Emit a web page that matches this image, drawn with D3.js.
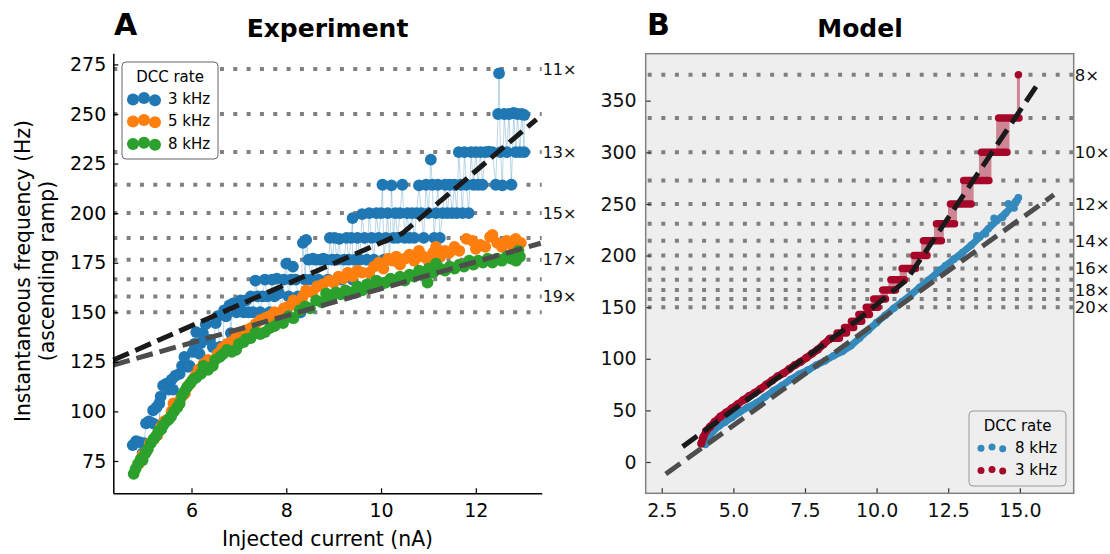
<!DOCTYPE html>
<html><head><meta charset="utf-8">
<script src="https://cdn.jsdelivr.net/npm/d3@7"></script>
<style>
body{margin:0;background:#fff;}
svg{display:block;font-family:"DejaVu Sans",sans-serif;}
</style></head><body>
<svg id="chart" width="1110" height="554"></svg>
<script>
// ---------------- DATA ----------------
// Panel A (Experiment): [injected current nA, instantaneous frequency Hz]
const expRate3 = [
[4.76,83],[4.83,85],[4.9,84.5],[4.97,79],[5.0,84],[5.04,94],[5.1,95],[5.19,94],[5.19,100.5],[5.26,102],
[5.32,104],[5.32,93],[5.35,107.5],[5.4,113],[5.47,114],[5.52,111],[5.58,116],[5.61,111],[5.66,118],[5.75,119],
[5.8,123],[5.85,127.5],[5.92,122.5],[5.96,123],[6.03,130],[6.06,134],[6.1,140],[6.17,129],[6.2,134.5],[6.24,139.5],
[6.3,144],[6.39,136],[6.45,132.5],[6.51,144.5],[6.55,148],[6.6,132.5],[6.66,131.5],[6.69,151],[6.73,148],[6.8,153.5],
[6.83,139.5],[6.88,154.5],[6.95,150],[7.01,153],[7.04,156],[7.1,150],[7.15,156],[7.2,150],[7.25,158],[7.3,150],
[7.35,166],[7.4,158],[7.45,150],[7.5,158],[7.55,166.5],[7.6,158],[7.65,150],[7.7,166.5],[7.75,158],[7.8,167],
[7.85,159.5],[7.9,150],[7.95,166.5],[8.0,174.5],[8.05,158],[8.1,166.5],[8.14,173],[8.2,166.5],[8.25,158],[8.3,150],
[8.35,185],[8.4,166.5],[8.42,186.5],[8.47,176.5],[8.52,166.5],[8.56,177],[8.62,176.5],[8.68,166.5],[8.72,176.5],[8.78,177],
[8.84,176.5],[8.88,166.5],[8.92,187.5],[8.97,176.5],[9.02,187.5],[9.07,176.5],[9.12,187],[9.17,166.5],[9.22,176.5],[9.27,187.5],
[9.32,176.5],[9.37,187.5],[9.4,197.5],[9.4,166.5],[9.45,176.5],[9.5,187.5],[9.55,176.5],[9.6,199.5],[9.65,187.5],[9.7,176.5],
[9.75,200],[9.8,187.5],[9.85,176.5],[9.9,200],[9.95,187.5],[10.0,200],[10.03,214.3],[10.06,176.5],[10.1,187.5],[10.14,200],
[10.18,176.5],[10.22,214],[10.26,187.5],[10.3,200],[10.35,187.5],[10.4,200],[10.45,214.3],[10.5,187.5],[10.55,200],[10.6,187.5],
[10.65,200],[10.7,187.5],[10.75,200],[10.8,214],[10.85,200],[10.9,187.5],[10.95,214.3],[11.0,200],[11.05,227],[11.08,214.3],
[11.12,187.5],[11.16,200],[11.2,214.3],[11.24,187.5],[11.3,200],[11.35,214.3],[11.4,200],[11.45,214.3],[11.5,200],[11.55,214.3],
[11.6,200],[11.64,230.8],[11.68,214.3],[11.72,200],[11.76,230.8],[11.8,214.3],[11.85,200],[11.9,230.8],[11.95,214.3],[12.0,230.8],
[12.05,214.3],[12.1,230.8],[12.14,214.3],[12.2,230.8],[12.27,231],[12.35,230.8],[12.42,214.3],[12.47,250],[12.49,270.5],[12.52,230.8],
[12.56,214],[12.6,250],[12.65,230.8],[12.7,250],[12.75,214.3],[12.8,250.5],[12.84,230.8],[12.88,250],[12.93,230.8],[12.97,250],
[13.02,230.8],[13.02,249.5]
];
const expRate5 = [
[4.9,74],[4.97,78],[5.05,80],[5.12,84],[5.2,86],[5.28,88],[5.35,92],[5.42,95],[5.5,96],[5.58,100],
[5.62,104],[5.7,103],[5.78,107],[5.86,109],[5.93,113],[6.0,115],[6.08,118],[6.15,121],[6.25,124],[6.35,126],
[6.45,125],[6.55,129],[6.65,132],[6.75,134],[6.85,135],[6.95,138],[7.05,139],[7.15,141],[7.25,142],[7.35,144],
[7.45,146],[7.55,147],[7.65,148],[7.75,150],[7.85,149],[7.95,152],[8.05,153],[8.15,156],[8.25,155],[8.35,158],
[8.42,161],[8.55,160],[8.65,163],[8.77,164],[8.9,166],[9.0,165],[9.1,168],[9.2,167],[9.3,170],[9.4,168],
[9.5,171],[9.6,170],[9.75,170],[9.85,173],[9.95,175],[10.05,172],[10.15,177],[10.25,176],[10.32,178],[10.4,174],
[10.5,177],[10.6,179],[10.7,176],[10.8,181],[10.9,178],[11.0,176],[11.1,180],[11.16,183],[11.25,178],[11.35,181],
[11.44,180],[11.55,183],[11.65,181],[11.8,187],[11.93,186],[12.0,182],[12.1,184],[12.2,183],[12.3,188],[12.35,189],
[12.45,185],[12.55,183],[12.65,186],[12.75,184],[12.84,187],[12.9,179],[12.95,185]
];
const expRate8 = [
[4.78,68.5],[4.82,71],[4.87,73.5],[4.93,76],[4.97,75.5],[5.03,79],[5.08,81],[5.14,84],[5.2,86],[5.25,87.5],
[5.3,90],[5.36,91],[5.4,93],[5.47,95],[5.52,96],[5.57,97.5],[5.63,100],[5.7,102],[5.75,104],[5.8,108],
[5.85,110],[5.9,112],[5.97,114],[6.03,116],[6.1,117],[6.2,119],[6.25,123],[6.35,121],[6.45,123],[6.5,126],
[6.6,127.5],[6.67,129],[6.75,131],[6.85,130],[6.94,131],[7.0,134],[7.1,135],[7.15,136.5],[7.25,137],[7.35,140],
[7.45,139],[7.55,140],[7.65,142],[7.75,143],[7.85,145],[7.93,144.5],[8.05,148],[8.15,147],[8.28,151],[8.4,153],
[8.5,152],[8.63,156],[8.75,155],[8.84,159.5],[8.95,157],[9.05,160],[9.15,159],[9.25,161],[9.4,160],[9.5,163],
[9.6,161],[9.7,164],[9.8,163],[9.9,166],[10.0,164],[10.1,165],[10.2,167],[10.3,166],[10.4,168],[10.5,166],
[10.6,169],[10.7,168],[10.8,171],[10.9,169],[10.98,165],[11.0,172],[11.1,170],[11.16,174.5],[11.25,172],[11.35,171],
[11.45,173],[11.55,172],[11.65,174],[11.75,173],[11.86,176],[11.95,174],[12.05,176],[12.15,175],[12.25,177],[12.35,175],
[12.45,177],[12.55,176],[12.65,178],[12.75,177],[12.85,176],[12.9,181],[12.93,178]
];
const expFit3 = [[4.35,125.9],[10.45,189.8],[13.28,247.3]];
const expFit8 = [[4.35,123.4],[13.37,184.8]];
const expLevels = [272.7,250,230.8,214.3,200,187.5,176.5,166.7,157.9,150];
const expLevelLabels = ["11×","","13×","","15×","","17×","","19×",""];
const expXTicks = [6,8,10,12];
const expYTicks = [75,100,125,150,175,200,225,250,275];
const expLegend = ["3 kHz","5 kHz","8 kHz"];

// Panel B (Model)
const modelRate8 = [
[4.02,17],[4.15,24],[4.3,30],[4.5,35],[4.7,38.5],[4.95,43],[5.2,48],[5.5,53],[5.8,57],[6.1,63],
[6.4,69],[6.7,74],[7.0,80],[7.3,85],[7.6,89],[7.9,94],[8.2,98],[8.5,103],[8.8,107],[9.1,112.5],
[9.4,120],[9.7,127.5],[10.0,135],[10.3,142],[10.6,149],[10.9,155.5],[11.2,162],[11.5,169],[11.8,176],[12.1,183],
[12.4,190],[12.7,196.5],[13.0,203],[13.3,210],[13.6,218],[13.9,226],[14.2,234],[14.5,241],[14.7,247],[14.85,252],[14.95,256]
];
const modelRate8Jitter = [[13.5,219],[13.8,221],[14.1,236],[14.4,237],[14.6,250],[14.8,246],[14.9,253],[12.9,199],[12.2,186]];
const modelRate3Smooth = [
[3.88,18],[3.95,24],[4.05,30],[4.18,34],[4.35,39],[4.55,44],[4.75,48],[4.95,52],[5.15,56],[5.35,60],
[5.55,64],[5.75,67],[5.95,71],[6.15,75],[6.35,79],[6.55,83],[6.75,86],[6.95,90],[7.15,94],[7.35,97],
[7.55,101],[7.75,105],[7.95,109],[8.15,114],[8.35,119]
];
// [frequency level, first current, last current]
const modelRate3Runs = [
[120,8.38,8.7],[125,8.62,8.95],[130.4,8.88,9.2],[136.4,9.12,9.48],[142.9,9.38,9.75],
[150,9.64,10.05],[157.9,9.9,10.31],[166.7,10.22,10.66],[176.5,10.5,10.97],[187.5,10.89,11.36],
[200,11.3,11.76],[214.3,11.64,12.26],[230.8,12.09,12.72],[250,12.58,13.3],[272.7,13.04,13.92],
[300,13.66,14.55],[333.3,14.26,14.97],[375,14.95,14.95]
];
const modelFit3 = [[3.23,14.9],[9.42,139.3],[11.05,176.4],[15.59,364.7]];
const modelFit8 = [[2.64,-11.6],[16.19,258.8]];
const modelLevels = [375,333.3,300,272.7,250,230.8,214.3,200,187.5,176.5,166.7,157.9,150];
const modelLevelLabels = ["8×","","10×","","12×","","14×","","16×","","18×","","20×"];
const modelXTicks = [2.5,5,7.5,10,12.5,15];
const modelYTicks = [0,50,100,150,200,250,300,350];
const modelLegend = ["8 kHz","3 kHz"];

// ---------------- DRAW ----------------
const svg = d3.select("#chart");
svg.append("rect").attr("width",1110).attr("height",554).attr("fill","#fff");
const FONT = "DejaVu Sans";
const cA = ["#1f77b4","#ff7f0e","#2ca02c"];
const cB = ["#348ABD","#A60628"];

// ===== Panel A =====
const xA = d3.scaleLinear().domain([4.35,13.39]).range([113.3,541.7]);
const yA = d3.scaleLinear().domain([58.7,280.6]).range([493.3,53.3]);
const gA = svg.append("g");

gA.selectAll("line.lvl").data(expLevels).join("line")
  .attr("x1",xA(4.35)).attr("x2",xA(13.39))
  .attr("y1",d=>yA(d)).attr("y2",d=>yA(d))
  .attr("stroke","#808080").attr("stroke-width",4).attr("stroke-dasharray","4,9.33");
gA.selectAll("text.lvl").data(expLevels).join("text")
  .attr("x",xA(13.39)+1).attr("y",d=>yA(d)).attr("dy","0.36em")
  .attr("font-size",16).attr("font-family",FONT).attr("fill","#111")
  .text((d,i)=>expLevelLabels[i]);

const lineA = d3.line().x(d=>xA(d[0])).y(d=>yA(d[1]));
gA.append("path").datum(expRate3).attr("d",lineA)
  .attr("fill","none").attr("stroke",cA[0]).attr("stroke-opacity",0.3).attr("stroke-width",1);

[expRate3,expRate5,expRate8].forEach((s,i)=>{
  gA.append("g").selectAll("circle").data(s).join("circle")
    .attr("cx",d=>xA(d[0])).attr("cy",d=>yA(d[1])).attr("r",5.9).attr("fill",cA[i]);
});

gA.append("path").datum(expFit8).attr("d",lineA).attr("fill","none")
  .attr("stroke","#4d4d4d").attr("stroke-width",5).attr("stroke-dasharray","17,7");
gA.append("path").datum(expFit3).attr("d",lineA).attr("fill","none")
  .attr("stroke","#1a1a1a").attr("stroke-width",5).attr("stroke-dasharray","17,7");

const axA_x = gA.append("g").attr("transform","translate(0,493.3)")
  .call(d3.axisBottom(xA).tickValues(expXTicks).tickSizeInner(-5).tickSizeOuter(0).tickPadding(10).tickFormat(d3.format("d")));
const axA_y = gA.append("g").attr("transform","translate(113.3,0)")
  .call(d3.axisLeft(yA).tickValues(expYTicks).tickSizeInner(-5).tickSizeOuter(0).tickPadding(7).tickFormat(d3.format("d")));
[axA_x,axA_y].forEach(a=>{
  a.attr("font-size",19).attr("font-family",FONT);
  a.selectAll("text").attr("fill","#000");
  a.selectAll(".tick line").attr("stroke","#000").attr("stroke-width",1.2);
  a.select(".domain").attr("stroke","#000").attr("stroke-width",1.5);
});

const legA = gA.append("g");
legA.append("rect").attr("x",122).attr("y",62).attr("width",96).attr("height",97).attr("rx",4)
  .attr("fill","#fff").attr("stroke","#666").attr("stroke-width",1);
legA.append("text").attr("x",170).attr("y",81.5).attr("text-anchor","middle")
  .attr("font-size",15).attr("font-family",FONT).text("DCC rate");
const legAy = [98.7,120.7,143.3];
const dotOff = [[133,0.8],[144,-0.6],[155,1.5]];
expLegend.forEach((lab,i)=>{
  dotOff.forEach(o=>legA.append("circle").attr("cx",o[0]).attr("cy",legAy[i]+o[1]).attr("r",6).attr("fill",cA[i]));
  legA.append("text").attr("x",168).attr("y",legAy[i]).attr("dy","0.36em")
    .attr("font-size",15).attr("font-family",FONT).text(lab);
});

svg.append("text").attr("x",114).attr("y",35).attr("font-size",30).attr("font-weight","bold").attr("font-family",FONT).text("A");
svg.append("text").attr("x",327.5).attr("y",37.3).attr("text-anchor","middle").attr("font-size",25).attr("font-weight","bold").attr("font-family",FONT).text("Experiment");
svg.append("text").attr("x",327.5).attr("y",546).attr("text-anchor","middle").attr("font-size",20.4).attr("font-family",FONT).text("Injected current (nA)");
svg.append("text").attr("transform","translate(29.5,271) rotate(-90)").attr("text-anchor","middle").attr("font-size",20.4).attr("font-family",FONT).text("Instantaneous frequency (Hz)");
svg.append("text").attr("transform","translate(54,271) rotate(-90)").attr("text-anchor","middle").attr("font-size",20.4).attr("font-family",FONT).text("(ascending ramp)");

// ===== Panel B =====
const xB = d3.scaleLinear().domain([1.94,16.88]).range([645.7,1073.7]);
const yB = d3.scaleLinear().domain([-30.3,395.5]).range([493.3,53.7]);
const gB = svg.append("g");
gB.append("rect").attr("x",645.7).attr("y",53.7).attr("width",428).attr("height",439.6).attr("fill","#eeeeee");

gB.selectAll("line.lvl").data(modelLevels).join("line")
  .attr("x1",xB(1.94)+2).attr("x2",xB(16.88))
  .attr("y1",d=>yB(d)).attr("y2",d=>yB(d))
  .attr("stroke","#808080").attr("stroke-width",4).attr("stroke-dasharray","4,9.6");
gB.selectAll("text.lvl").data(modelLevels).join("text")
  .attr("x",xB(16.88)+1).attr("y",d=>yB(d)).attr("dy","0.36em")
  .attr("font-size",16.5).attr("font-family",FONT).attr("fill","#111")
  .text((d,i)=>modelLevelLabels[i]);

const lineB = d3.line().x(d=>xB(d[0])).y(d=>yB(d[1]));
gB.append("path").datum(modelRate8).attr("d",lineB).attr("fill","none")
  .attr("stroke",cB[0]).attr("stroke-width",7).attr("stroke-linecap","round").attr("stroke-linejoin","round");
gB.append("g").selectAll("circle").data(modelRate8.concat(modelRate8Jitter)).join("circle")
  .attr("cx",d=>xB(d[0])).attr("cy",d=>yB(d[1])).attr("r",3.8).attr("fill",cB[0]);

for(let i=0;i<modelRate3Runs.length-1;i++){
  const lo = modelRate3Runs[i], hi = modelRate3Runs[i+1];
  let x0 = xB(hi[1]) - 2.5, x1 = xB(lo[2]) + 2.5;
  if(i === modelRate3Runs.length-2){ x0 = xB(hi[1]) - 1.5; x1 = xB(hi[1]) + 1.5; }
  if(x1 - x0 < 3){ const m=(x0+x1)/2; x0=m-1.5; x1=m+1.5; }
  gB.append("rect").attr("x",x0).attr("width",x1-x0)
    .attr("y",yB(hi[0])).attr("height",yB(lo[0])-yB(hi[0]))
    .attr("fill",cB[1]).attr("fill-opacity",0.45);
}
gB.append("path").datum(modelRate3Smooth).attr("d",lineB).attr("fill","none")
  .attr("stroke",cB[1]).attr("stroke-width",7.5).attr("stroke-linecap","round").attr("stroke-linejoin","round");
gB.append("g").selectAll("circle").data(modelRate3Smooth).join("circle")
  .attr("cx",d=>xB(d[0])).attr("cy",d=>yB(d[1])).attr("r",4).attr("fill",cB[1]);
gB.append("g").selectAll("line").data(modelRate3Runs).join("line")
  .attr("x1",d=>xB(d[1])).attr("x2",d=>xB(d[2])+0.01)
  .attr("y1",d=>yB(d[0])).attr("y2",d=>yB(d[0]))
  .attr("stroke",cB[1]).attr("stroke-width",7.5).attr("stroke-linecap","round");

gB.append("path").datum(modelFit8).attr("d",lineB).attr("fill","none")
  .attr("stroke","#4d4d4d").attr("stroke-width",5).attr("stroke-dasharray","18,8");
gB.append("path").datum(modelFit3).attr("d",lineB).attr("fill","none")
  .attr("stroke","#1a1a1a").attr("stroke-width",5).attr("stroke-dasharray","18,8");

const axB_x = gB.append("g").attr("transform","translate(0,493.3)")
  .call(d3.axisBottom(xB).tickValues(modelXTicks).tickSizeInner(-5).tickSizeOuter(0).tickPadding(10).tickFormat(d3.format(".1f")));
const axB_y = gB.append("g").attr("transform","translate(645.7,0)")
  .call(d3.axisLeft(yB).tickValues(modelYTicks).tickSizeInner(-5).tickSizeOuter(0).tickPadding(9).tickFormat(d3.format("d")));
[axB_x,axB_y].forEach(a=>{
  a.attr("font-size",19).attr("font-family",FONT);
  a.selectAll("text").attr("fill","#111");
  a.selectAll(".tick line").attr("stroke","#333").attr("stroke-width",1.2);
  a.select(".domain").remove();
});
gB.append("rect").attr("x",645.7).attr("y",53.7).attr("width",428).attr("height",439.6)
  .attr("fill","none").attr("stroke","#808080").attr("stroke-width",1.5);

const legB = gB.append("g");
legB.append("rect").attr("x",969).attr("y",411).attr("width",97).attr("height",75).attr("rx",4)
  .attr("fill","#eeeeee").attr("stroke","#999").attr("stroke-width",1);
legB.append("text").attr("x",1017.5).attr("y",430.5).attr("text-anchor","middle")
  .attr("font-size",15).attr("font-family",FONT).text("DCC rate");
const legBy = [447.7,470];
const dotOffB = [[981,0.6],[992,-0.6],[1002.7,1.1]];
modelLegend.forEach((lab,i)=>{
  dotOffB.forEach(o=>legB.append("circle").attr("cx",o[0]).attr("cy",legBy[i]+o[1]).attr("r",3.5).attr("fill",cB[i]));
  legB.append("text").attr("x",1015).attr("y",legBy[i]).attr("dy","0.36em")
    .attr("font-size",15).attr("font-family",FONT).text(lab);
});

svg.append("text").attr("x",647).attr("y",35).attr("font-size",30).attr("font-weight","bold").attr("font-family",FONT).text("B");
svg.append("text").attr("x",860).attr("y",37.3).attr("text-anchor","middle").attr("font-size",25).attr("font-weight","bold").attr("font-family",FONT).text("Model");
</script>
</body></html>
